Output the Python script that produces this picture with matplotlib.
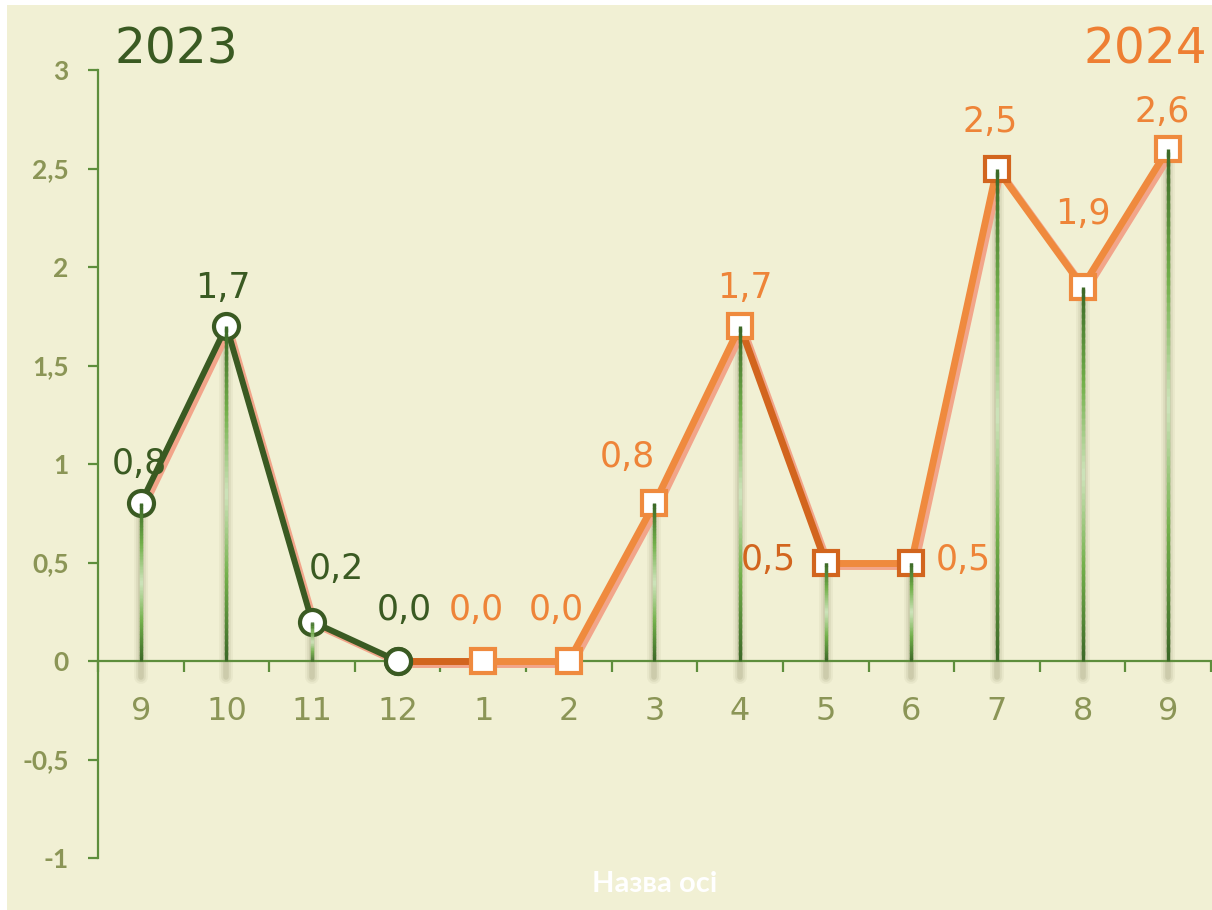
import numpy as np
import matplotlib.pyplot as plt
import matplotlib.patheffects as pe
from matplotlib.collections import LineCollection
from matplotlib.colors import LinearSegmentedColormap
from matplotlib.patches import Rectangle

# data
months = ["9", "10", "11", "12", "1", "2", "3", "4", "5", "6", "7", "8", "9"]
values_2023 = [0.8, 1.7, 0.2, 0.0]
values_2024 = [0.0, 0.0, 0.8, 1.7, 0.5, 0.5, 2.5, 1.9, 2.6]
y_ticks = [-1, -0.5, 0, 0.5, 1, 1.5, 2, 2.5, 3]

# colours
bg = "#F1F0D4"
dark_green = "#3A5A22"
orange = "#EF8A3E"
dark_orange = "#D2651E"
label_orange = "#EE8438"
olive = "#8B9556"
axis_green = "#5E8E3C"
salmon = "#F2A58A"

x23 = np.arange(len(values_2023))
x24 = np.arange(len(values_2023), len(months))
all_values = values_2023 + values_2024

fig = plt.figure(figsize=(12.12, 9.10), dpi=100, facecolor="white")
fig.patches.append(Rectangle((7 / 1212, 0), 1, 1 - 5 / 910, transform=fig.transFigure,
                             facecolor=bg, edgecolor="none", zorder=-1))
ax = fig.add_axes([98 / 1212, 1 - 858 / 910, 1113 / 1212, 788 / 910])
ax.set_facecolor("none")
ax.set_xlim(-0.5, len(months) - 0.5)
ax.set_ylim(-1, 3)

# drop lines with gradient and soft shadow
cmap = LinearSegmentedColormap.from_list("drop", ["#3D6A28", "#72B04A", "#CFE4BC", "#72B04A", "#3D6A28"])
n = 60
for xi, v in zip(range(len(months)), all_values):
    if v <= 0:
        continue
    for w, a in [(10, 0.07), (7, 0.10), (4, 0.16)]:
        ax.plot([xi, xi], [-0.08, v - 0.03], color="#7A7A50", lw=w, alpha=a,
                solid_capstyle="round", zorder=2)
    ys = np.linspace(0, v, n + 1)
    step = ys[1] - ys[0]
    segs = [[(xi, ys[k]), (xi, min(ys[k + 1] + step * 0.6, v))] for k in range(n)]
    lc = LineCollection(segs, colors=cmap(np.linspace(0, 1, n)), linewidths=2.4,
                        capstyle="butt", zorder=6)
    ax.add_collection(lc)

shadow = [pe.SimpleLineShadow(offset=(2.5, -2.5), shadow_color=salmon, alpha=1.0), pe.Normal()]

# 2023 line
ax.plot(x23, values_2023, color=dark_green, lw=4.3, zorder=3, path_effects=shadow,
        solid_capstyle="butt")
ax.plot(x23, values_2023, ls="none", marker="o", ms=18, mfc="white", mec=dark_green,
        mew=3, zorder=5)

# 2024 line, drawn segment by segment (some segments darker)
xs = [x23[-1]] + list(x24)
ys = [values_2023[-1]] + values_2024
seg_colors = [dark_orange, orange, orange, orange, dark_orange, orange, orange, orange, orange]
for k in range(len(xs) - 1):
    ax.plot(xs[k:k + 2], ys[k:k + 2], color=seg_colors[k], lw=5, zorder=3,
            path_effects=shadow, solid_capstyle="round")
mark_colors = [orange, orange, orange, orange, dark_orange, dark_orange, dark_orange, orange, orange]
for xi, v, c in zip(x24, values_2024, mark_colors):
    ax.plot(xi, v, ls="none", marker="s", ms=17, mfc="white", mec=c, mew=3, zorder=5)
ax.plot(x23[-1], values_2023[-1], ls="none", marker="o", ms=18, mfc="white",
        mec=dark_green, mew=3, zorder=5)

# data labels
offsets = [(-1, 39), (-4, 38), (24, 53), (7, 51), (-7, 51), (-13, 51), (-27, 46),
           (5, 38), (-57, 2), (52, 2), (-7, 47), (0, 73), (-6, 37)]
label_colors = [dark_green] * 4 + [label_orange] * 4 + [dark_orange] + [label_orange] * 4
for xi, v, off, c in zip(range(len(months)), all_values, offsets, label_colors):
    ax.annotate(f"{v:.1f}".replace(".", ","), (xi, v), xytext=off, textcoords="offset pixels",
                ha="center", va="center", fontsize=25, color=c, zorder=7)

# axes styling
for s in ["top", "right"]:
    ax.spines[s].set_visible(False)
ax.spines["bottom"].set_position(("data", 0))
ax.spines["bottom"].set_color(axis_green)
ax.spines["left"].set_color(axis_green)
ax.spines["bottom"].set_linewidth(1.6)
ax.spines["left"].set_linewidth(1.6)

ax.set_yticks(y_ticks)
ax.set_yticklabels([f"{t:g}".replace(".", ",") for t in y_ticks], fontsize=19,
                   fontweight="bold", color=olive, family=["Lato", "DejaVu Sans"])
ax.tick_params(axis="y", direction="out", length=7, width=1.6, color=axis_green, pad=14)

ax.set_xticks(range(len(months)))
ax.set_xticklabels(months, fontsize=23, color=olive)
ax.set_xticks(np.arange(-0.5, len(months), 1), minor=True)
ax.tick_params(axis="x", which="major", length=0, pad=25)
ax.tick_params(axis="x", which="minor", direction="out", length=8, width=1.6, color=axis_green)

fig.text(115 / 1212, 1 - 49 / 910, "2023", fontsize=35, color=dark_green, ha="left", va="center")
fig.text(1207 / 1212, 1 - 49 / 910, "2024", fontsize=35, color="#EE7F33", ha="right", va="center")
fig.text(655 / 1212, 1 - 884 / 910, "Назва осі", fontsize=21, fontweight="bold", color="white",
         ha="center", va="center", family=["Lato", "DejaVu Sans"])

fig.savefig("out.png", dpi=100, facecolor="white")
